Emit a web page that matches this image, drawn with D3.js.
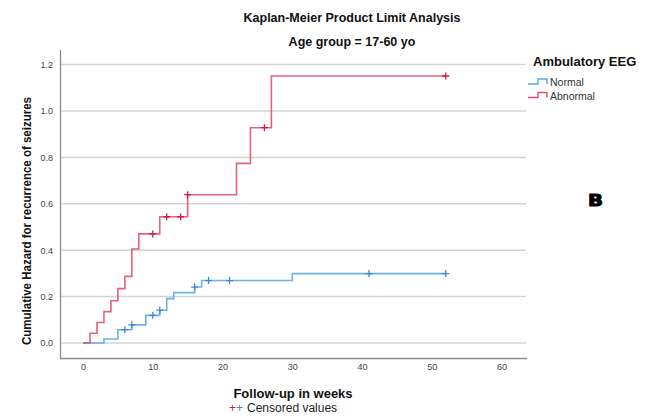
<!DOCTYPE html>
<html>
<head>
<meta charset="utf-8">
<script src="https://cdn.jsdelivr.net/npm/d3@7"></script>
<style>
  body { margin: 0; background: #fff; }
  text { font-family: Arial, "Liberation Sans", sans-serif; }
</style>
</head>
<body>
<svg id="chart" width="646" height="418"></svg>
<script>
// Kaplan-Meier cumulative hazard, age group 17-60 yo

// abnormal EEG (red)
var abnTimes = [1, 2, 3, 4, 5, 6, 7, 8, 11, 15, 22, 24, 27];
var abnHazard = [0.042, 0.088, 0.135, 0.182, 0.234, 0.287, 0.405, 0.470, 0.544, 0.639, 0.774, 0.928, 1.151];
var abnCensored = [10, 12, 14, 15, 26, 52];
var abnEnd = 52;

// normal EEG (blue)
var normTimes = [3, 5, 7, 9, 11, 12, 13, 16, 17, 30];
var normHazard = [0.017, 0.057, 0.078, 0.119, 0.141, 0.191, 0.217, 0.241, 0.269, 0.299];
var normCensored = [6, 7, 10, 11, 16, 18, 21, 41, 52];
var normEnd = 52;

var xTicks = [0, 10, 20, 30, 40, 50, 60];
var yTicks = [0, 0.2, 0.4, 0.6, 0.8, 1.0, 1.2];

var legendLabels = ["Normal", "Abnormal"];
var lineColors = ["#5aaae6", "#e2506f"];
var markColors = ["#3f86d8", "#d41848"];

var svg = d3.select("#chart");

var x = d3.scaleLinear().domain([-3.3, 63.5]).range([60, 526]);
var y = d3.scaleLinear().domain([-0.065, 1.263]).range([358, 50]);

// gridlines
svg.append("g").selectAll("line")
  .data(yTicks)
  .enter().append("line")
  .attr("x1", 60).attr("x2", 526)
  .attr("y1", function(d) { return y(d); })
  .attr("y2", function(d) { return y(d); })
  .attr("stroke", "#d4d4d4")
  .attr("stroke-width", 1.5);

// axes
var yAxis = d3.axisLeft(y).tickValues(yTicks).tickSize(0).tickPadding(7)
  .tickFormat(d3.format(".1f"));
var xAxis = d3.axisBottom(x).tickValues(xTicks).tickSize(0).tickPadding(6);

var gY = svg.append("g").attr("transform", "translate(60,0)").call(yAxis);
var gX = svg.append("g").attr("transform", "translate(0,358)").call(xAxis);
[gY, gX].forEach(function(g) {
  g.select(".domain").attr("stroke", "#8c8c8c").attr("stroke-width", 1.3);
  g.selectAll("text").attr("fill", "#444").style("font-size", "9px");
});
gY.select(".domain").attr("d", "M0.5,50V358.5");
gX.select(".domain").attr("d", "M60,0.5H527");

// step curves
function series(times, vals, end) {
  var pts = [[0, 0]];
  times.forEach(function(t, i) { pts.push([t, vals[i]]); });
  pts.push([end, vals[vals.length - 1]]);
  return pts;
}
function valueAt(times, vals, t) {
  var v = 0;
  times.forEach(function(tt, i) { if (tt <= t) v = vals[i]; });
  return v;
}

var line = d3.line()
  .x(function(d) { return x(d[0]); })
  .y(function(d) { return y(d[1]); })
  .curve(d3.curveStepAfter);

var groups = [
  { times: normTimes, vals: normHazard, cens: normCensored, end: normEnd },
  { times: abnTimes, vals: abnHazard, cens: abnCensored, end: abnEnd }
];

groups.forEach(function(g, i) {
  svg.append("path")
    .datum(series(g.times, g.vals, g.end))
    .attr("d", line)
    .attr("fill", "none")
    .attr("stroke", lineColors[i])
    .attr("stroke-width", 1.6)
    .attr("stroke-opacity", 0.9);

  var marks = svg.append("g").selectAll("g")
    .data(g.cens)
    .enter().append("g")
    .attr("transform", function(t) {
      return "translate(" + x(t) + "," + y(valueAt(g.times, g.vals, t)) + ")";
    });
  marks.append("path")
    .attr("d", "M-3.5,0H3.5M0,-3.5V3.5")
    .attr("stroke", markColors[i])
    .attr("stroke-width", 1.3);
});

// titles
svg.append("text").attr("x", 352).attr("y", 22)
  .attr("text-anchor", "middle").style("font-size", "12.5px").style("font-weight", "bold")
  .attr("fill", "#111").text("Kaplan-Meier Product Limit Analysis");
svg.append("text").attr("x", 352).attr("y", 46)
  .attr("text-anchor", "middle").style("font-size", "12.5px").style("font-weight", "bold")
  .attr("fill", "#111").text("Age group = 17-60 yo");

svg.append("text").attr("x", 293).attr("y", 398)
  .attr("text-anchor", "middle").style("font-size", "13px").style("font-weight", "bold")
  .attr("fill", "#111").text("Follow-up in weeks");

svg.append("text")
  .attr("transform", "translate(31,221) rotate(-90)")
  .attr("text-anchor", "middle").style("font-size", "12px").style("font-weight", "bold")
  .attr("textLength", 248).attr("lengthAdjust", "spacingAndGlyphs")
  .attr("fill", "#111").text("Cumulative Hazard for recurrence of seizures");

// censored note
var note = svg.append("text").attr("x", 229).attr("y", 412).style("font-size", "12px");
note.append("tspan").attr("fill", markColors[1]).text("+");
note.append("tspan").attr("fill", markColors[0]).text("+");
note.append("tspan").attr("fill", "#222").attr("dx", 4).text("Censored values");

// legend
svg.append("text").attr("x", 533).attr("y", 66)
  .style("font-size", "13px").style("font-weight", "bold").attr("fill", "#111")
  .text("Ambulatory EEG");

var leg = svg.append("g").selectAll("g")
  .data(legendLabels)
  .enter().append("g")
  .attr("transform", function(d, i) { return "translate(528," + (84 + i * 13.5) + ")"; });
leg.append("path")
  .attr("d", "M0,0H10V-5H19V0")
  .attr("fill", "none")
  .attr("stroke", function(d, i) { return lineColors[i]; })
  .attr("stroke-width", 1.4);
leg.append("text").attr("x", 22).attr("y", 2)
  .style("font-size", "10.5px").attr("fill", "#333")
  .text(function(d) { return d; });

// panel label
svg.append("text").attr("x", 588).attr("y", 206)
  .style("font-family", "'DejaVu Sans', sans-serif")
  .style("font-size", "16px").style("font-weight", "bold")
  .attr("fill", "#000").attr("stroke", "#000").attr("stroke-width", 1)
  .attr("textLength", 15).attr("lengthAdjust", "spacingAndGlyphs")
  .text("B");
</script>
</body>
</html>
